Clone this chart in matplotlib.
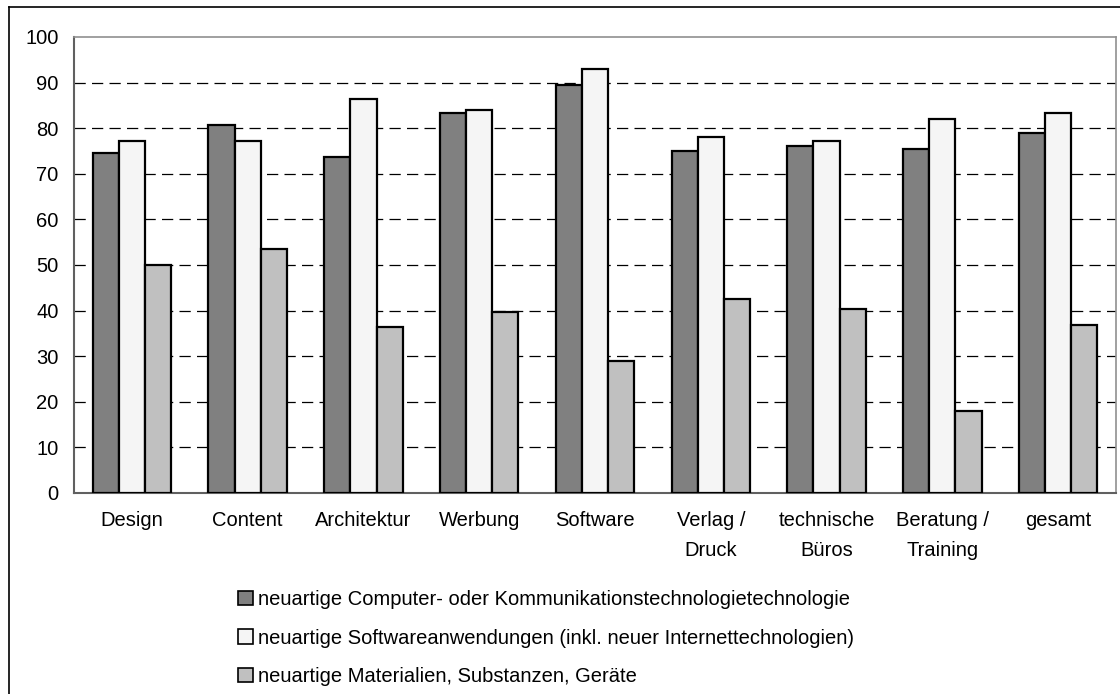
import matplotlib.pyplot as plt
import matplotlib.patches as mpatches
import numpy as np

plt.rcParams['font.family'] = ['Liberation Sans', 'DejaVu Sans']

# Data
categories = ["Design", "Content", "Architektur", "Werbung", "Software",
              "Verlag /\nDruck", "technische\nBüros", "Beratung /\nTraining", "gesamt"]
computer = [74.5, 80.6, 73.6, 83.3, 89.5, 75.0, 76.2, 75.4, 78.9]
software = [77.2, 77.2, 86.3, 84.1, 92.9, 78.0, 77.2, 82.0, 83.3]
materialien = [49.9, 53.4, 36.3, 39.8, 28.9, 42.5, 40.3, 18.0, 36.8]

labels = ["neuartige Computer- oder Kommunikationstechnologietechnologie",
          "neuartige Softwareanwendungen (inkl. neuer Internettechnologien)",
          "neuartige Materialien, Substanzen, Geräte"]
colors = ["#808080", "#f5f5f5", "#c0c0c0"]

fig = plt.figure(figsize=(11.2, 6.94), dpi=100)
ax = fig.add_axes([74 / 1120, 1 - 493 / 694, 1042 / 1120, 456 / 694])

x = np.arange(len(categories))
w = 0.226
series = [computer, software, materialien]
handles = []
for k, (vals, col) in enumerate(zip(series, colors)):
    ax.bar(x + (k - 1) * w, vals, width=w, color=col,
           edgecolor="black", linewidth=1.6, zorder=3)
    handles.append(mpatches.Patch(facecolor=col, edgecolor="black", linewidth=1.2))

ax.set_xlim(-0.5, len(categories) - 0.5)
ax.set_ylim(0, 100)
ax.set_yticks(range(0, 101, 10))
ax.yaxis.grid(True, color="black", linestyle=(0, (9, 5)), linewidth=0.9, zorder=0)
ax.set_axisbelow(True)
gl = ax.get_ygridlines()
gl[0].set_visible(False)
gl[-1].set_visible(False)

fs = 14.5
ax.set_xticks(x)
ax.set_xticklabels(categories, fontsize=fs, linespacing=1.75)
ax.tick_params(axis="x", length=0, pad=13)
ax.tick_params(axis="y", length=0, pad=11, labelsize=fs)

for s in ["left", "bottom"]:
    ax.spines[s].set_color("#606060")
    ax.spines[s].set_linewidth(1.5)
for s in ["top", "right"]:
    ax.spines[s].set_color("#909090")
    ax.spines[s].set_linewidth(1.2)

# outer chart frame (only top and left edges visible in the reference)
fig.add_artist(plt.Line2D([8.5 / 1120, 8.5 / 1120], [0, 1 - 7 / 694],
                          color="black", linewidth=1.2))
fig.add_artist(plt.Line2D([8.5 / 1120, 1], [1 - 7 / 694, 1 - 7 / 694],
                          color="black", linewidth=1.2))

fig.legend(handles, labels, loc="upper left",
           bbox_to_anchor=(230 / 1120, 1 - 582 / 694),
           frameon=False, fontsize=fs, handlelength=0.75, handleheight=0.75,
           handletextpad=0.25, labelspacing=0.97, borderaxespad=0)

fig.savefig("out.png", dpi=100)
